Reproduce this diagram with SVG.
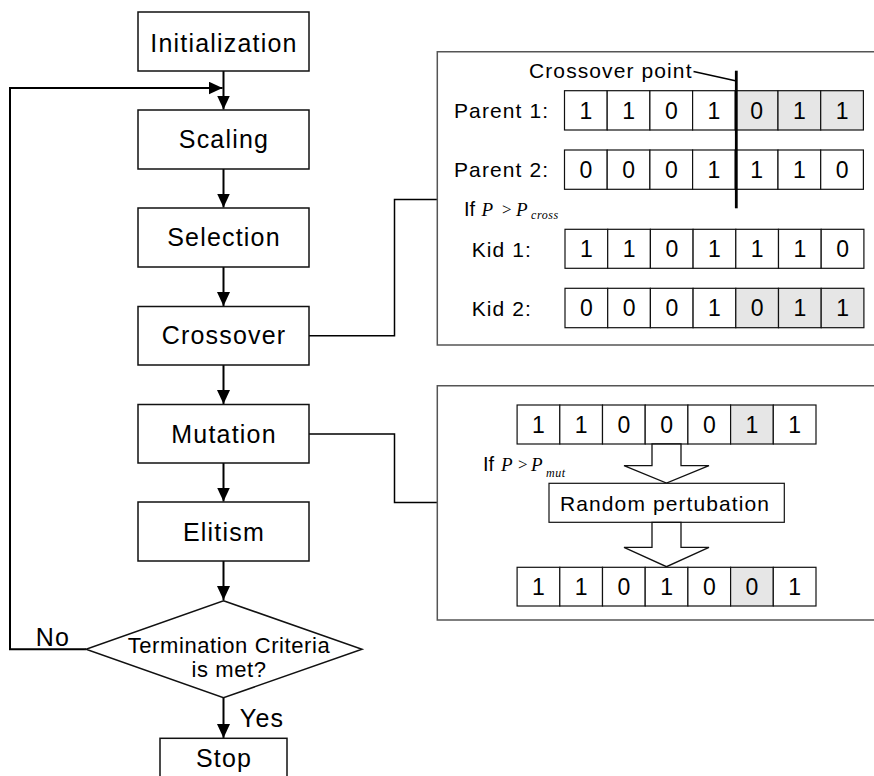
<svg xmlns="http://www.w3.org/2000/svg" width="874" height="776" viewBox="0 0 874 776">
<defs>
<style>
.box{fill:#fff;stroke:#111;stroke-width:1.5}
.ln{fill:none;stroke:#000;stroke-width:2}
.thin{fill:none;stroke:#000;stroke-width:1.5}
.panel{fill:none;stroke:#555;stroke-width:1.5}
.cell{fill:#fff;stroke:#111;stroke-width:1.2}
.g{fill:#e6e6e6}
.t{font-family:"Liberation Sans",Arial,sans-serif;fill:#000}
.big{font-size:25px;letter-spacing:1.2px;text-anchor:middle}
.mid{font-size:21px;letter-spacing:1.1px}
.dig{font-size:23px;text-anchor:middle}
.tm{font-family:"Liberation Serif","Times New Roman",serif;font-style:italic;fill:#000}
</style>
<marker id="ah" viewBox="0 0 14 13" refX="14" refY="6.5" markerWidth="14" markerHeight="13" markerUnits="userSpaceOnUse" orient="auto">
<path d="M0,0 L14,6.5 L0,13 Z" fill="#000"/>
</marker>
</defs>
<rect width="874" height="776" fill="#fff"/>

<g id="connectors">
<line class="ln" x1="223.5" y1="71" x2="223.5" y2="109.5" marker-end="url(#ah)"/>
<line class="ln" x1="223.5" y1="169" x2="223.5" y2="207.5" marker-end="url(#ah)"/>
<line class="ln" x1="223.5" y1="267" x2="223.5" y2="306" marker-end="url(#ah)"/>
<line class="ln" x1="223.5" y1="365" x2="223.5" y2="404" marker-end="url(#ah)"/>
<line class="ln" x1="223.5" y1="463" x2="223.5" y2="501.5" marker-end="url(#ah)"/>
<line class="ln" x1="223.5" y1="561" x2="223.5" y2="600" marker-end="url(#ah)"/>
<line class="ln" x1="223.5" y1="698" x2="223.5" y2="738" marker-end="url(#ah)"/>
<polyline class="ln" points="86,649.3 10,649.3 10,88 222.5,88" marker-end="url(#ah)"/>
<polyline class="thin" points="309,335.7 394.5,335.7 394.5,199.5 437.3,199.5"/>
<polyline class="thin" points="309,434 394.5,434 394.5,502.5 437.3,502.5"/>
<text class="t big" x="53" y="646">No</text>
<text class="t big" x="262" y="726.7">Yes</text>
</g>

<g id="initialization">
<rect class="box" x="138" y="12" width="171" height="59"/>
<text class="t big" x="224" y="51.5">Initialization</text>
</g>
<g id="scaling">
<rect class="box" x="138" y="110" width="171" height="59"/>
<text class="t big" x="224" y="148">Scaling</text>
</g>
<g id="selection">
<rect class="box" x="138" y="208" width="171" height="59"/>
<text class="t big" x="224" y="246">Selection</text>
</g>
<g id="crossover">
<rect class="box" x="138" y="306.5" width="171" height="58.5"/>
<text class="t big" x="224" y="344">Crossover</text>
</g>
<g id="mutation">
<rect class="box" x="138" y="404.5" width="171" height="58.5"/>
<text class="t big" x="224" y="443">Mutation</text>
</g>
<g id="elitism">
<rect class="box" x="138" y="502" width="171" height="59"/>
<text class="t big" x="224" y="540.5">Elitism</text>
</g>
<g id="termination">
<polygon class="box" points="223.5,600.7 362,649.3 223.5,697.7 86,649.3"/>
<text class="t" x="229" y="652.5" style="font-size:22px;letter-spacing:0.6px;text-anchor:middle">Termination Criteria</text>
<text class="t" x="229" y="677" style="font-size:22px;letter-spacing:0.6px;text-anchor:middle">is met?</text>
</g>
<g id="stop">
<rect class="box" x="160" y="738.3" width="127" height="50"/>
<text class="t big" x="224" y="766.7">Stop</text>
</g>

<g id="crossover-panel">
<polyline class="panel" points="874,51.7 437.3,51.7 437.3,345 874,345"/>
<text class="t mid" x="529" y="78">Crossover point</text>
<line x1="693.5" y1="71.5" x2="736.5" y2="81" stroke="#000" stroke-width="1.5"/>
<text class="t mid" x="454" y="118">Parent 1:</text>
<text class="t mid" x="454" y="177">Parent 2:</text>
<text class="t mid" x="471.7" y="256.5">Kid 1:</text>
<text class="t mid" x="471.7" y="315.5">Kid 2:</text>
<g id="p1">
<rect class="cell" x="564.5" y="90.7" width="42.7" height="39.3"/>
<rect class="cell" x="607.2" y="90.7" width="42.7" height="39.3"/>
<rect class="cell" x="649.9" y="90.7" width="42.7" height="39.3"/>
<rect class="cell" x="692.6" y="90.7" width="42.7" height="39.3"/>
<rect class="cell g" x="735.3" y="90.7" width="42.7" height="39.3"/>
<rect class="cell g" x="778" y="90.7" width="42.7" height="39.3"/>
<rect class="cell g" x="820.7" y="90.7" width="42.7" height="39.3"/>
<text class="t dig" x="585.9" y="118.6">1</text>
<text class="t dig" x="628.6" y="118.6">1</text>
<text class="t dig" x="671.3" y="118.6">0</text>
<text class="t dig" x="714" y="118.6">1</text>
<text class="t dig" x="756.7" y="118.6">0</text>
<text class="t dig" x="799.4" y="118.6">1</text>
<text class="t dig" x="842.1" y="118.6">1</text>
</g>
<g id="p2">
<rect class="cell" x="564.5" y="150" width="42.7" height="39.3"/>
<rect class="cell" x="607.2" y="150" width="42.7" height="39.3"/>
<rect class="cell" x="649.9" y="150" width="42.7" height="39.3"/>
<rect class="cell" x="692.6" y="150" width="42.7" height="39.3"/>
<rect class="cell" x="735.3" y="150" width="42.7" height="39.3"/>
<rect class="cell" x="778" y="150" width="42.7" height="39.3"/>
<rect class="cell" x="820.7" y="150" width="42.7" height="39.3"/>
<text class="t dig" x="585.9" y="178">0</text>
<text class="t dig" x="628.6" y="178">0</text>
<text class="t dig" x="671.3" y="178">0</text>
<text class="t dig" x="714" y="178">1</text>
<text class="t dig" x="756.7" y="178">1</text>
<text class="t dig" x="799.4" y="178">1</text>
<text class="t dig" x="842.1" y="178">0</text>
</g>
<line x1="736.3" y1="70.7" x2="736.3" y2="208.3" stroke="#000" stroke-width="2.8"/>
<text class="t" x="464" y="216" style="font-size:20px">If</text>
<text class="tm" x="481.5" y="215.5" style="font-size:19px">P</text>
<text class="tm" x="502" y="214.5" style="font-size:17px;font-style:normal">&gt;</text>
<text class="tm" x="516" y="215.5" style="font-size:19px">P</text>
<text class="tm" x="531" y="219" style="font-size:12px;letter-spacing:0.6px">cross</text>
<g id="k1">
<rect class="cell" x="565" y="229.3" width="42.7" height="39"/>
<rect class="cell" x="607.7" y="229.3" width="42.7" height="39"/>
<rect class="cell" x="650.4" y="229.3" width="42.7" height="39"/>
<rect class="cell" x="693.1" y="229.3" width="42.7" height="39"/>
<rect class="cell" x="735.8" y="229.3" width="42.7" height="39"/>
<rect class="cell" x="778.5" y="229.3" width="42.7" height="39"/>
<rect class="cell" x="821.2" y="229.3" width="42.7" height="39"/>
<text class="t dig" x="586.4" y="257">1</text>
<text class="t dig" x="629.1" y="257">1</text>
<text class="t dig" x="671.8" y="257">0</text>
<text class="t dig" x="714.5" y="257">1</text>
<text class="t dig" x="757.2" y="257">1</text>
<text class="t dig" x="799.9" y="257">1</text>
<text class="t dig" x="842.6" y="257">0</text>
</g>
<g id="k2">
<rect class="cell" x="565" y="288.3" width="42.7" height="39.4"/>
<rect class="cell" x="607.7" y="288.3" width="42.7" height="39.4"/>
<rect class="cell" x="650.4" y="288.3" width="42.7" height="39.4"/>
<rect class="cell" x="693.1" y="288.3" width="42.7" height="39.4"/>
<rect class="cell g" x="735.8" y="288.3" width="42.7" height="39.4"/>
<rect class="cell g" x="778.5" y="288.3" width="42.7" height="39.4"/>
<rect class="cell g" x="821.2" y="288.3" width="42.7" height="39.4"/>
<text class="t dig" x="586.4" y="316.3">0</text>
<text class="t dig" x="629.1" y="316.3">0</text>
<text class="t dig" x="671.8" y="316.3">0</text>
<text class="t dig" x="714.5" y="316.3">1</text>
<text class="t dig" x="757.2" y="316.3">0</text>
<text class="t dig" x="799.9" y="316.3">1</text>
<text class="t dig" x="842.6" y="316.3">1</text>
</g>
</g>

<g id="mutation-panel">
<polyline class="panel" points="874,385.7 437.3,385.7 437.3,620 874,620"/>
<g id="m1">
<rect class="cell" x="517.1" y="405" width="42.7" height="39"/>
<rect class="cell" x="559.8" y="405" width="42.7" height="39"/>
<rect class="cell" x="602.5" y="405" width="42.7" height="39"/>
<rect class="cell" x="645.2" y="405" width="42.7" height="39"/>
<rect class="cell" x="687.9" y="405" width="42.7" height="39"/>
<rect class="cell g" x="730.6" y="405" width="42.7" height="39"/>
<rect class="cell" x="773.3" y="405" width="42.7" height="39"/>
<text class="t dig" x="538.5" y="432.5">1</text>
<text class="t dig" x="581.2" y="432.5">1</text>
<text class="t dig" x="623.9" y="432.5">0</text>
<text class="t dig" x="666.6" y="432.5">0</text>
<text class="t dig" x="709.3" y="432.5">0</text>
<text class="t dig" x="752" y="432.5">1</text>
<text class="t dig" x="794.7" y="432.5">1</text>
</g>
<polygon points="652,444 652,465.7 624,465.7 666.5,483 709,465.7 681,465.7 681,444" fill="#fff" stroke="#111" stroke-width="1.3"/>
<text class="t" x="483" y="471" style="font-size:20px">If</text>
<text class="tm" x="501" y="470.5" style="font-size:19px">P</text>
<text class="tm" x="518" y="469.5" style="font-size:17px;font-style:normal">&gt;</text>
<text class="tm" x="531" y="470.5" style="font-size:19px">P</text>
<text class="tm" x="546" y="476.5" style="font-size:12px;letter-spacing:0.6px">mut</text>
<rect class="cell" x="549" y="483.3" width="235.3" height="39"/>
<text class="t mid" x="560" y="510.7">Random pertubation</text>
<polygon points="652,522.3 652,547.3 624,547.3 666.5,566.7 709,547.3 681,547.3 681,522.3" fill="#fff" stroke="#111" stroke-width="1.3"/>
<g id="m2">
<rect class="cell" x="517.1" y="567.3" width="42.7" height="38.7"/>
<rect class="cell" x="559.8" y="567.3" width="42.7" height="38.7"/>
<rect class="cell" x="602.5" y="567.3" width="42.7" height="38.7"/>
<rect class="cell" x="645.2" y="567.3" width="42.7" height="38.7"/>
<rect class="cell" x="687.9" y="567.3" width="42.7" height="38.7"/>
<rect class="cell g" x="730.6" y="567.3" width="42.7" height="38.7"/>
<rect class="cell" x="773.3" y="567.3" width="42.7" height="38.7"/>
<text class="t dig" x="538.5" y="595">1</text>
<text class="t dig" x="581.2" y="595">1</text>
<text class="t dig" x="623.9" y="595">0</text>
<text class="t dig" x="666.6" y="595">1</text>
<text class="t dig" x="709.3" y="595">0</text>
<text class="t dig" x="752" y="595">0</text>
<text class="t dig" x="794.7" y="595">1</text>
</g>
</g>
</svg>
